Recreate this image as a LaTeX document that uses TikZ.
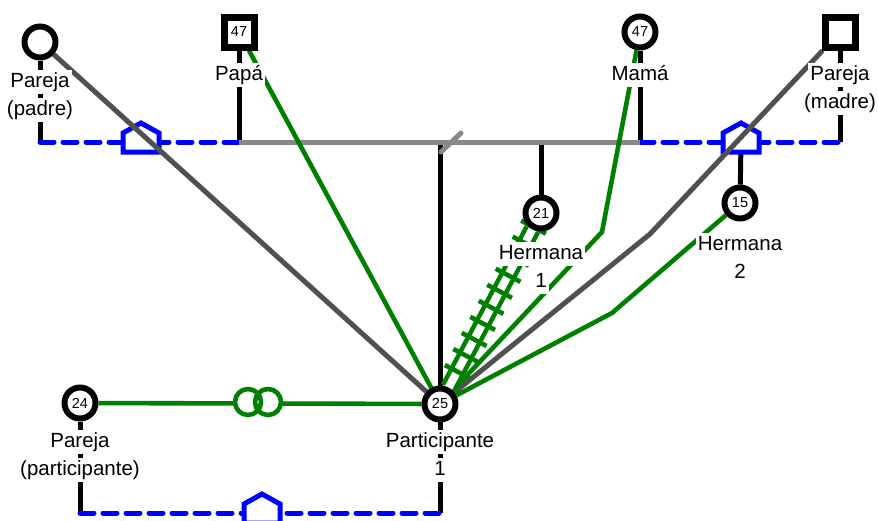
\documentclass[tikz,border=0pt]{standalone}
\usepackage{fontspec}
\setmainfont{Liberation Sans}
\usepackage{tikz}
\usetikzlibrary{backgrounds}
\usetikzlibrary{calc}
\definecolor{kingreen}{RGB}{0,128,0}
\definecolor{kingray}{RGB}{80,80,80}
\definecolor{bargray}{RGB}{136,136,136}
\definecolor{unionblue}{RGB}{0,0,255}

\begin{document}
\begin{tikzpicture}[x=1pt, y=-1pt,
    female style/.style={circle, draw, line width=6pt, fill=white, minimum size=31pt, inner sep=0pt, font=\fontsize{14.5}{16}\selectfont},
    male style/.style={rectangle, draw, line width=7pt, fill=white, minimum size=30pt, inner sep=0pt, font=\fontsize{14.5}{16}\selectfont},
    name style/.style={fill=white, inner xsep=2pt, inner ysep=2pt, text height=15pt, text depth=5pt, anchor=base, font=\fontsize{20.5}{24}\selectfont},
    stem style/.style={line width=5pt},
    bar style/.style={bargray, line width=5pt},
    union style/.style={unionblue, line width=5pt, dash pattern=on 14pt off 9pt, line cap=round},
    house style/.style={unionblue, line width=5pt, fill=white},
    slash style/.style={bargray, line width=5pt, line cap=round},
    gray kin/.style={kingray, line width=5pt},
    green kin/.style={kingreen, line width=4.6pt}
]
\useasboundingbox (0,0) rectangle (878,520);

\node[female style] (padre) at (40,42) {};
\node[male style] (papa) at (239,32) {47};
\node[female style] (mama) at (640,32) {47};
\node[male style] (madre) at (840,32) {};
\node[female style] (hermana1) at (541,213) {21};
\node[female style] (hermana2) at (740,203) {15};
\node[female style] (participante) at (440,404) {25};
\node[female style] (pareja) at (80,403) {24};

\node[name style] (padre name) at (40,87) {Pareja};
\node[name style] (padre name2) at (40,115) {(padre)};
\node[name style] (papa name) at (239,80) {Papá};
\node[name style] (mama name) at (640,80) {Mamá};
\node[name style] (madre name) at (840,80) {Pareja};
\node[name style] (madre name2) at (840,108) {(madre)};
\node[name style] (hermana1 name) at (541,259) {Hermana};
\node[name style] (hermana1 name2) at (541,287) {1};
\node[name style] (hermana2 name) at (740,250) {Hermana};
\node[name style] (hermana2 name2) at (740,278) {2};
\node[name style] (pareja name) at (80,447) {Pareja};
\node[name style] (pareja name2) at (80,475) {(participante)};
\node[name style] (participante name) at (440,447) {Participante};
\node[name style] (participante name2) at (440,475) {1};

\coordinate (left union) at (141,142);
\coordinate (right union) at (741,142);
\coordinate (low union) at (262,513);
\coordinate (rings) at (258,402);
\coordinate (bend mama) at (602,232);
\coordinate (bend madre) at (650,234);
\coordinate (bend hermana2) at (612,313);

\begin{scope}[on background layer]
\draw[stem style] (padre) -- (padre |- left union);
\draw[stem style] (papa) -- (papa |- left union);
\draw[stem style] (mama) -- (mama |- left union);
\draw[stem style] (madre) -- (madre |- left union);
\draw[stem style] (hermana1) -- (hermana1 |- left union);
\draw[stem style] (hermana2) -- (right union);
\draw[stem style] (participante |- left union) -- (participante |- low union);
\draw[stem style] (pareja) -- (pareja |- low union);

\draw[union style] (padre |- left union) -- (papa |- left union);
\draw[union style] (mama |- right union) -- (madre |- right union);
\draw[union style] (pareja |- low union) -- (participante |- low union);
\draw[bar style] (papa |- left union) -- (mama |- left union);
\draw[slash style] (participante |- left union) ++(1,10) -- ++(20,-19);
\foreach \u in {left union, right union, low union}
    \draw[house style] (\u) ++(-18,10) -- ++(0,-19) -- ++(18,-10) -- ++(18,10) -- ++(0,19) -- cycle;

\draw[gray kin] (padre) -- (participante);
\draw[gray kin] (participante) -- (bend madre) -- (madre);
\draw[green kin] (participante) -- (papa);
\draw[green kin] (participante) -- (bend mama) -- (mama);
\draw[green kin] (participante) -- (bend hermana2) -- (hermana2);
\draw[green kin, double, double distance=8pt] (participante) -- (hermana1);
\foreach \t in {0.17,0.254,...,0.93}
    \draw[green kin] ($(participante)!\t!(hermana1)!14pt!90:(hermana1)$) -- ($(participante)!\t!(hermana1)!14pt!-90:(hermana1)$);
\draw[green kin] (pareja) -- (participante);
\fill[white] (rings) +(-10,0) circle (13) +(10,0) circle (13);
\draw[green kin] (rings) +(-10,0) circle (13) +(10,0) circle (13);
\end{scope}
\end{tikzpicture}
\end{document}
